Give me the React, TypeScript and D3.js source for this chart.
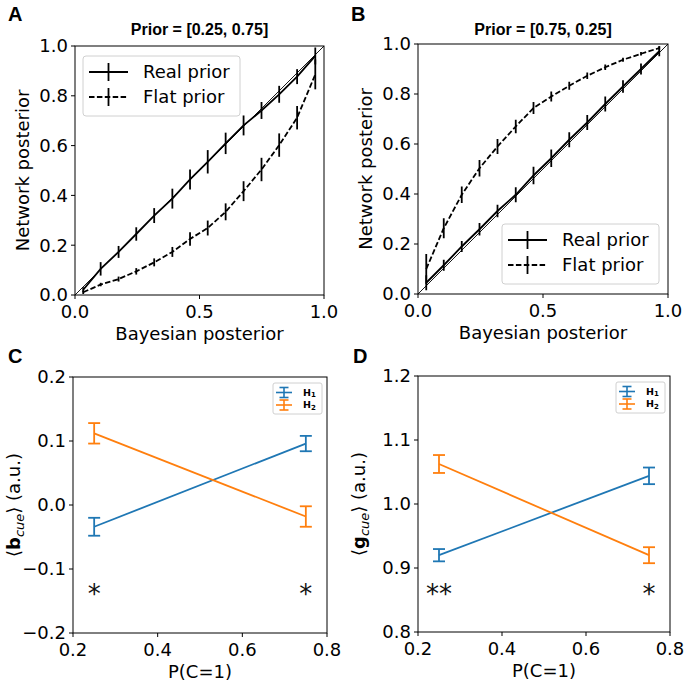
import React from "react";
import * as d3 from "d3";

// ---------- Data ----------
const binX = [0.033, 0.103, 0.175, 0.246, 0.318, 0.391, 0.462, 0.533, 0.605, 0.677, 0.749, 0.82, 0.892, 0.965];

const aRealY = [0.021, 0.105, 0.173, 0.245, 0.319, 0.387, 0.464, 0.535, 0.609, 0.681, 0.741, 0.806, 0.877, 0.96];
const aRealErr = [0.01, 0.027, 0.024, 0.027, 0.03, 0.04, 0.04, 0.047, 0.043, 0.04, 0.034, 0.034, 0.03, 0.034];
const aFlatY = [0.011, 0.042, 0.064, 0.095, 0.131, 0.173, 0.225, 0.269, 0.334, 0.417, 0.504, 0.602, 0.712, 0.886];
const aFlatErr = [0.007, 0.007, 0.01, 0.013, 0.016, 0.02, 0.027, 0.03, 0.034, 0.04, 0.047, 0.047, 0.047, 0.06];

const bRealY = [0.045, 0.115, 0.19, 0.259, 0.332, 0.397, 0.474, 0.543, 0.617, 0.686, 0.76, 0.83, 0.9, 0.971];
const bRealErr = [0.03, 0.022, 0.022, 0.025, 0.025, 0.03, 0.035, 0.035, 0.03, 0.03, 0.03, 0.025, 0.022, 0.02];
const bFlatY = [0.1, 0.263, 0.397, 0.503, 0.59, 0.67, 0.744, 0.79, 0.833, 0.873, 0.907, 0.937, 0.961, 0.984];
const bFlatErr = [0.06, 0.04, 0.033, 0.033, 0.03, 0.027, 0.024, 0.02, 0.016, 0.013, 0.011, 0.008, 0.007, 0.007];

const cueX = [0.25, 0.75];
const cH1 = [-0.034, 0.096];
const cH1Err = [0.014, 0.012];
const cH2 = [0.112, -0.018];
const cH2Err = [0.016, 0.016];
const cStars = ["*", "*"];

const dH1 = [0.92, 1.044];
const dH1Err = [0.0096, 0.013];
const dH2 = [1.0625, 0.92];
const dH2Err = [0.014, 0.0125];
const dStars = ["**", "*"];

const postTicks = [0, 0.5, 1.0];
const postYTicks = [0, 0.2, 0.4, 0.6, 0.8, 1.0];
const cueXTicks = [0.2, 0.4, 0.6, 0.8];
const cYTicks = [-0.2, -0.1, 0.0, 0.1, 0.2];
const dYTicks = [0.8, 0.9, 1.0, 1.1, 1.2];

const BLUE = "#1f77b4";
const ORANGE = "#ff7f0e";
const FONT = "'DejaVu Sans', sans-serif";
const BOLD = "'Liberation Sans', Arial, sans-serif";
const LW = 1.8;

const fmt1 = (v: number) => d3.format(".1f")(v).replace("-", "\u2212");

type Box = { x0: number; x1: number; y0: number; y1: number };

function Axes({ box, xs, ys, xTicks, yTicks }: any) {
  return (
    <g>
      <rect x={box.x0} y={box.y0} width={box.x1 - box.x0} height={box.y1 - box.y0} fill="none" stroke="#000" strokeWidth={1} />
      {xTicks.map((t: number) => (
        <g key={"x" + t}>
          <line x1={xs(t)} x2={xs(t)} y1={box.y1} y2={box.y1 + 4} stroke="#000" strokeWidth={1} />
          <text x={xs(t)} y={box.y1 + 23} textAnchor="middle" fontSize={18} fontFamily={FONT} fill="#000">{fmt1(t)}</text>
        </g>
      ))}
      {yTicks.map((t: number) => (
        <g key={"y" + t}>
          <line x1={box.x0 - 4} x2={box.x0} y1={ys(t)} y2={ys(t)} stroke="#000" strokeWidth={1} />
          <text x={box.x0 - 7} y={ys(t)} dy="0.36em" textAnchor="end" fontSize={18} fontFamily={FONT} fill="#000">{fmt1(t)}</text>
        </g>
      ))}
    </g>
  );
}

function PosteriorPanel({ box, letter, title, realY, realErr, flatY, flatErr, legendPos }: any) {
  const xs = d3.scaleLinear().domain([0, 1]).range([box.x0, box.x1]);
  const ys = d3.scaleLinear().domain([0, 1]).range([box.y1, box.y0]);
  const line = d3.line<number>().x((_, i) => xs(binX[i])).y((v) => ys(v));
  const cx = (box.x0 + box.x1) / 2;
  const cy = (box.y0 + box.y1) / 2;
  const lg = legendPos;
  return (
    <g>
      <text x={box.x0 - 67} y={21} fontSize={20} fontWeight="bold" fontFamily={BOLD}>{letter}</text>
      <text x={cx} y={35} textAnchor="middle" fontSize={16} fontWeight="bold" fontFamily={BOLD}>{title}</text>
      <line x1={xs(0)} y1={ys(0)} x2={xs(1)} y2={ys(1)} stroke="#000" strokeWidth={0.9} />
      <path d={line(realY) || ""} fill="none" stroke="#000" strokeWidth={LW} />
      {realY.map((v: number, i: number) => (
        <line key={"r" + i} x1={xs(binX[i])} x2={xs(binX[i])} y1={ys(v - realErr[i])} y2={ys(v + realErr[i])} stroke="#000" strokeWidth={LW} />
      ))}
      <path d={line(flatY) || ""} fill="none" stroke="#000" strokeWidth={LW} strokeDasharray="5.5,2.4" />
      {flatY.map((v: number, i: number) => (
        <line key={"f" + i} x1={xs(binX[i])} x2={xs(binX[i])} y1={ys(v - flatErr[i])} y2={ys(v + flatErr[i])} stroke="#000" strokeWidth={LW} />
      ))}
      <Axes box={box} xs={xs} ys={ys} xTicks={postTicks} yTicks={postYTicks} />
      <text x={cx} y={box.y1 + 45} textAnchor="middle" fontSize={18} fontFamily={FONT}>Bayesian posterior</text>
      <text transform={`translate(${box.x0 - 46},${cy}) rotate(-90)`} textAnchor="middle" fontSize={18} fontFamily={FONT}>Network posterior</text>
      <g>
        <rect x={lg.x} y={lg.y} width={157} height={60} rx={3} fill="#fff" fillOpacity={0.8} stroke="#d0d0d0" strokeWidth={1} />
        <line x1={lg.x + 6} x2={lg.x + 45} y1={lg.y + 16} y2={lg.y + 16} stroke="#000" strokeWidth={LW} />
        <line x1={lg.x + 25.5} x2={lg.x + 25.5} y1={lg.y + 7} y2={lg.y + 25} stroke="#000" strokeWidth={LW} />
        <text x={lg.x + 60} y={lg.y + 16} dy="0.36em" fontSize={18} fontFamily={FONT}>Real prior</text>
        <line x1={lg.x + 6} x2={lg.x + 45} y1={lg.y + 41} y2={lg.y + 41} stroke="#000" strokeWidth={LW} strokeDasharray="5.5,2.4" />
        <line x1={lg.x + 25.5} x2={lg.x + 25.5} y1={lg.y + 32} y2={lg.y + 50} stroke="#000" strokeWidth={LW} />
        <text x={lg.x + 60} y={lg.y + 41} dy="0.36em" fontSize={18} fontFamily={FONT}>Flat prior</text>
      </g>
    </g>
  );
}

function CuePanel({ box, letter, yDomain, yTicks, h1, h1Err, h2, h2Err, stars, starY, labelChar }: any) {
  const xs = d3.scaleLinear().domain([0.2, 0.8]).range([box.x0, box.x1]);
  const ys = d3.scaleLinear().domain(yDomain).range([box.y1, box.y0]);
  const line = d3.line<number>().x((_, i) => xs(cueX[i])).y((v) => ys(v));
  const cx = (box.x0 + box.x1) / 2;
  const cy = (box.y0 + box.y1) / 2;
  const series = [
    { vals: h1, errs: h1Err, color: BLUE },
    { vals: h2, errs: h2Err, color: ORANGE },
  ];
  const lx = box.x1 - 54;
  const ly = box.y0 + 6;
  return (
    <g>
      <text x={box.x0 - 65} y={363} fontSize={20} fontWeight="bold" fontFamily={BOLD}>{letter}</text>
      {series.map((s, k) => (
        <g key={k}>
          <path d={line(s.vals) || ""} fill="none" stroke={s.color} strokeWidth={LW} />
          {s.vals.map((v: number, i: number) => {
            const x = xs(cueX[i]);
            const yt = ys(v + s.errs[i]);
            const yb = ys(v - s.errs[i]);
            return (
              <g key={i} stroke={s.color} strokeWidth={LW}>
                <line x1={x} x2={x} y1={yt} y2={yb} />
                <line x1={x - 6} x2={x + 6} y1={yt} y2={yt} />
                <line x1={x - 6} x2={x + 6} y1={yb} y2={yb} />
              </g>
            );
          })}
        </g>
      ))}
      {stars.map((s: string, i: number) => (
        <text key={"s" + i} x={xs(cueX[i])} y={ys(starY)} dy="0.55em" textAnchor="middle" fontSize={26} fontFamily={FONT} fill="#111">{s}</text>
      ))}
      <Axes box={box} xs={xs} ys={ys} xTicks={cueXTicks} yTicks={yTicks} />
      <text x={cx} y={box.y1 + 45} textAnchor="middle" fontSize={18} fontFamily={FONT}>P(C=1)</text>
      <text transform={`translate(${box.x0 - 53},${cy}) rotate(-90)`} textAnchor="middle" fontSize={18} fontFamily={FONT}>
        {"\u27E8"}<tspan fontWeight="bold">{labelChar}</tspan><tspan fontStyle="italic" fontSize={13} dy={4}>cue</tspan><tspan dy={-4}>{"\u27E9 (a.u.)"}</tspan>
      </text>
      <g>
        <rect x={lx} y={ly} width={49} height={31} rx={2} fill="#fff" fillOpacity={0.8} stroke="#d0d0d0" strokeWidth={1} />
        {series.map((s, k) => {
          const yy = ly + 9.5 + k * 12.5;
          return (
            <g key={"l" + k}>
              <g stroke={s.color} strokeWidth={1.6}>
                <line x1={lx + 3} x2={lx + 19} y1={yy} y2={yy} />
                <line x1={lx + 11} x2={lx + 11} y1={yy - 5} y2={yy + 5} />
                <line x1={lx + 6.5} x2={lx + 15.5} y1={yy - 5} y2={yy - 5} />
                <line x1={lx + 6.5} x2={lx + 15.5} y1={yy + 5} y2={yy + 5} />
              </g>
              <text x={lx + 30} y={yy} dy="0.36em" fontSize={9.5} fontWeight="bold" fontFamily={FONT}>
                H<tspan fontSize={7} dy={1.5}>{k === 0 ? "1" : "2"}</tspan>
              </text>
            </g>
          );
        })}
      </g>
    </g>
  );
}

export default function App() {
  const boxA: Box = { x0: 75, x1: 324, y0: 46, y1: 295 };
  const boxB: Box = { x0: 418, x1: 668, y0: 44, y1: 294 };
  const boxC: Box = { x0: 73, x1: 327, y0: 377, y1: 633 };
  const boxD: Box = { x0: 418, x1: 670, y0: 376, y1: 632 };
  return (
    <svg width={685} height={682} style={{ position: "absolute", left: 0, top: 0, background: "#fff" }}>
      <rect width={685} height={682} fill="#fff" />
      <PosteriorPanel box={boxA} letter="A" title="Prior = [0.25, 0.75]" realY={aRealY} realErr={aRealErr} flatY={aFlatY} flatErr={aFlatErr} legendPos={{ x: 83, y: 56 }} />
      <PosteriorPanel box={boxB} letter="B" title="Prior = [0.75, 0.25]" realY={bRealY} realErr={bRealErr} flatY={bFlatY} flatErr={bFlatErr} legendPos={{ x: 502, y: 224 }} />
      <CuePanel box={boxC} letter="C" yDomain={[-0.2, 0.2]} yTicks={cYTicks} h1={cH1} h1Err={cH1Err} h2={cH2} h2Err={cH2Err} stars={cStars} starY={-0.13} labelChar="b" />
      <CuePanel box={boxD} letter="D" yDomain={[0.8, 1.2]} yTicks={dYTicks} h1={dH1} h1Err={dH1Err} h2={dH2} h2Err={dH2Err} stars={dStars} starY={0.868} labelChar="g" />
    </svg>
  );
}
